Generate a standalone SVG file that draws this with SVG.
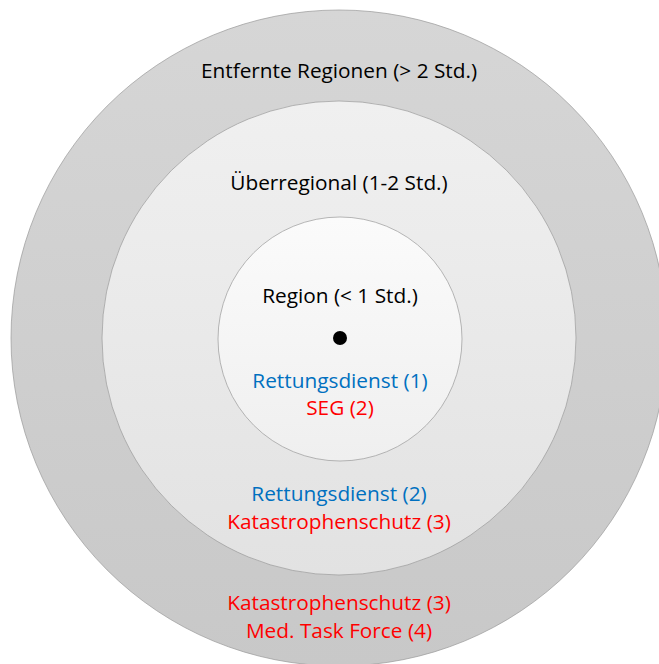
<svg xmlns="http://www.w3.org/2000/svg" width="659" height="664" viewBox="0 0 659 664">
<defs>
<linearGradient id="gOuter" x1="0" y1="0" x2="0" y2="1">
<stop offset="0" stop-color="#d6d6d6"/><stop offset="1" stop-color="#c8c8c8"/>
</linearGradient>
<linearGradient id="gMid" x1="0" y1="0" x2="0" y2="1">
<stop offset="0" stop-color="#f0f0f0"/><stop offset="1" stop-color="#e2e2e2"/>
</linearGradient>
<linearGradient id="gInner" x1="0" y1="0" x2="0" y2="1">
<stop offset="0" stop-color="#fbfbfb"/><stop offset="1" stop-color="#efefef"/>
</linearGradient>
<style>
.ring{stroke:#9a9a9a;stroke-width:0.7}
text{font-family:"Open Sans","Liberation Sans",sans-serif;font-size:20.8px;text-anchor:middle}
.k{fill:#000}
.b{fill:#0070c0}
.r{fill:#ff0000}
</style>
</defs>
<rect width="659" height="664" fill="#ffffff"/>
<g id="outer">
<circle class="ring" cx="339" cy="338" r="328" fill="url(#gOuter)"/>
<text class="k" x="339" y="78">Entfernte Regionen (&gt; 2 Std.)</text>
<text class="r" x="339" y="610">Katastrophenschutz (3)</text>
<text class="r" x="339" y="638">Med. Task Force (4)</text>
</g>
<g id="middle">
<circle class="ring" cx="339" cy="338" r="237" fill="url(#gMid)"/>
<text class="k" x="339" y="190">Überregional (1-2 Std.)</text>
<text class="b" x="339" y="501">Rettungsdienst (2)</text>
<text class="r" x="339" y="529">Katastrophenschutz (3)</text>
</g>
<g id="inner">
<circle class="ring" cx="340" cy="339" r="122" fill="url(#gInner)"/>
<text class="k" x="340" y="303">Region (&lt; 1 Std.)</text>
<circle cx="340" cy="338" r="7" fill="#000"/>
<text class="b" x="340" y="388">Rettungsdienst (1)</text>
<text class="r" x="340" y="415">SEG (2)</text>
</g>
<g id="connectors"/>
</svg>
